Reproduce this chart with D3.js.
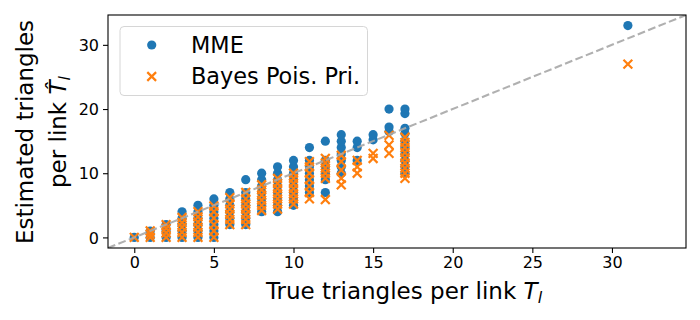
<!DOCTYPE html>
<html>
<head>
<meta charset="utf-8">
<script src="https://cdn.jsdelivr.net/npm/d3@7"></script>
<style>
  body { margin: 0; background: #fff; }
  svg text { font-family: "DejaVu Sans", sans-serif; }
</style>
</head>
<body>
<svg width="700" height="320"></svg>
<script>
// true triangle count per link, and the estimates read at each one
var trueT = [0, 1, 2, 3, 4, 5, 6, 7, 8, 9, 10, 11, 12, 13, 14, 15, 16, 17, 31];

var mmeByT = [
    [0],
    [0, 1],
    [0, 1, 2],
    [0, 1, 2, 3, 4],
    [0, 1, 2, 3, 4, 5],
    [0, 1, 2, 3, 4, 5, 6],
    [2, 3, 4, 5, 6, 7],
    [2, 3, 4, 5, 6, 7, 9],
    [4, 5, 6, 7, 8, 9, 10],
    [4, 5, 6, 7, 8, 9, 10, 11],
    [5, 6, 7, 8, 9, 10, 11, 12],
    [7, 8, 9, 10, 11, 12, 14],
    [7, 9, 10, 11, 12, 15],
    [10, 11, 12, 13, 14, 15, 16],
    [12, 14, 15],
    [15.2, 16],
    [16.5, 17.2, 20],
    [10, 11, 12, 13, 14, 15, 16.2, 17, 19.3, 20],
    [33]
];

var bayesByT = [
    [0],
    [0, 0.5, 1],
    [0, 0.7, 1.4, 2],
    [0, 0.8, 1.6, 2.3, 3.1],
    [0, 0.8, 1.6, 2.4, 3.2, 4],
    [0, 1, 2, 3, 4, 4.9],
    [2, 2.8, 3.6, 4.4, 5.2, 6.2],
    [2, 2.8, 3.6, 4.4, 5.2, 6, 7],
    [4.2, 5, 5.8, 6.6, 7.4, 8.2],
    [4.4, 5.2, 6, 6.8, 7.6, 8.4, 9.2],
    [5.2, 6, 6.8, 7.6, 8.4, 9.2, 10],
    [6, 7, 8, 9, 10, 11, 11.8],
    [5.9, 9.2, 10, 10.8, 11.6, 12.3],
    [8.2, 9.2, 10.5, 11.8, 12.8],
    [10, 11, 12],
    [12.3, 13.1],
    [13.1, 14.4, 15.9],
    [9.2, 10, 10.8, 11.6, 12.4, 13.2, 14, 14.8, 15.6],
    [27]
];

var refLine = [0, 33];
var xTicks = [0, 5, 10, 15, 20, 25, 30];
var yTicks = [0, 10, 20, 30];
var legendNames = ["MME", "Bayes Pois. Pri."];

var blue = "#1f77b4", orange = "#ff7f0e";

var svg = d3.select("svg"),
    axL = 108, axR = 686, axT = 15, axB = 248;

// matplotlib style 5% margin around the reference line
var pad = (refLine[1] - refLine[0]) * 0.05;
var dom = [refLine[0] - pad, refLine[1] + pad];

var x = d3.scaleLinear().domain(dom).range([axL, axR]);
var y = d3.scaleLinear().domain(dom).range([axB, axT]);

function flatten(byT) {
    var pts = [];
    byT.forEach(function(vals, i) {
        vals.forEach(function(v) { pts.push([trueT[i], v]); });
    });
    return pts;
}

svg.append("clipPath").attr("id", "clip")
    .append("rect").attr("x", axL).attr("y", axT)
    .attr("width", axR - axL).attr("height", axB - axT);

var plot = svg.append("g").attr("clip-path", "url(#clip)");

var r = 4.6, s = 4.4;
function cross(cx, cy) {
    return "M" + (cx - s) + "," + (cy - s) + "L" + (cx + s) + "," + (cy + s) +
           "M" + (cx - s) + "," + (cy + s) + "L" + (cx + s) + "," + (cy - s);
}

plot.selectAll("circle")
    .data(flatten(mmeByT))
    .enter().append("circle")
    .attr("cx", function(d) { return x(d[0]); })
    .attr("cy", function(d) { return y(d[1]); })
    .attr("r", r)
    .style("fill", blue);

plot.selectAll("path.cross")
    .data(flatten(bayesByT))
    .enter().append("path")
    .attr("class", "cross")
    .attr("d", function(d) { return cross(x(d[0]), y(d[1])); })
    .style("stroke", orange)
    .style("stroke-width", 2.2)
    .style("fill", "none");

plot.append("line")
    .attr("x1", x(dom[0])).attr("y1", y(dom[0]))
    .attr("x2", x(dom[1])).attr("y2", y(dom[1]))
    .style("stroke", "#a8a8a8")
    .style("stroke-width", 2.1)
    .style("stroke-dasharray", "7.8,3.4")
    .style("opacity", 0.9);

// axes
var xAxis = svg.append("g")
    .attr("transform", "translate(0," + axB + ")")
    .call(d3.axisBottom(x).tickValues(xTicks).tickSize(5).tickPadding(4));
var yAxis = svg.append("g")
    .attr("transform", "translate(" + axL + ",0)")
    .call(d3.axisLeft(y).tickValues(yTicks).tickSize(5).tickPadding(4));

[xAxis, yAxis].forEach(function(a) {
    a.select(".domain").remove();
    a.selectAll("line").style("stroke", "#000").style("stroke-width", 1.1);
    a.selectAll("text").style("font-size", "16px").style("fill", "#000")
        .style("font-family", "DejaVu Sans");
});
yAxis.selectAll("text").attr("dy", "0.36em");

svg.append("rect")
    .attr("x", axL).attr("y", axT)
    .attr("width", axR - axL).attr("height", axB - axT)
    .style("fill", "none").style("stroke", "#000").style("stroke-width", 1.1);

// axis labels
var xl = svg.append("text")
    .attr("x", (axL + axR) / 2 + 7).attr("y", 299)
    .attr("text-anchor", "middle")
    .style("font-size", "23px");
xl.append("tspan").text("True triangles per link ");
xl.append("tspan").style("font-style", "italic").text("T");
xl.append("tspan").style("font-style", "italic").style("font-size", "16px")
    .attr("dy", 4).text("l");

var yl = svg.append("g")
    .attr("transform", "translate(0,132) rotate(-90)");
yl.append("text").attr("x", 0).attr("y", 33)
    .attr("text-anchor", "middle").style("font-size", "23px")
    .text("Estimated triangles");
var yl2 = yl.append("text").attr("x", 0).attr("y", 66)
    .attr("text-anchor", "middle").style("font-size", "23px");
yl2.append("tspan").text("per link ");
yl2.append("tspan").style("font-style", "italic").text("T\u0302");
yl2.append("tspan").style("font-style", "italic").style("font-size", "16px")
    .attr("dy", 4).text("l");

// legend
var lg = svg.append("g");
lg.append("rect")
    .attr("x", 120).attr("y", 26.5).attr("width", 247.5).attr("height", 69)
    .attr("rx", 4)
    .style("fill", "#fff").style("fill-opacity", 0.8)
    .style("stroke", "#d6d6d6").style("stroke-width", 1);
lg.append("circle").attr("cx", 151.7).attr("cy", 45).attr("r", r).style("fill", blue);
lg.append("path")
    .attr("d", cross(151.7, 76.5))
    .style("stroke", orange).style("stroke-width", 2.2);
lg.selectAll("text.leg")
    .data(legendNames)
    .enter().append("text")
    .attr("class", "leg")
    .attr("x", 191)
    .attr("y", function(d, i) { return 52.5 + i * 31; })
    .style("font-size", "22.4px")
    .text(function(d) { return d; });
</script>
</body>
</html>
